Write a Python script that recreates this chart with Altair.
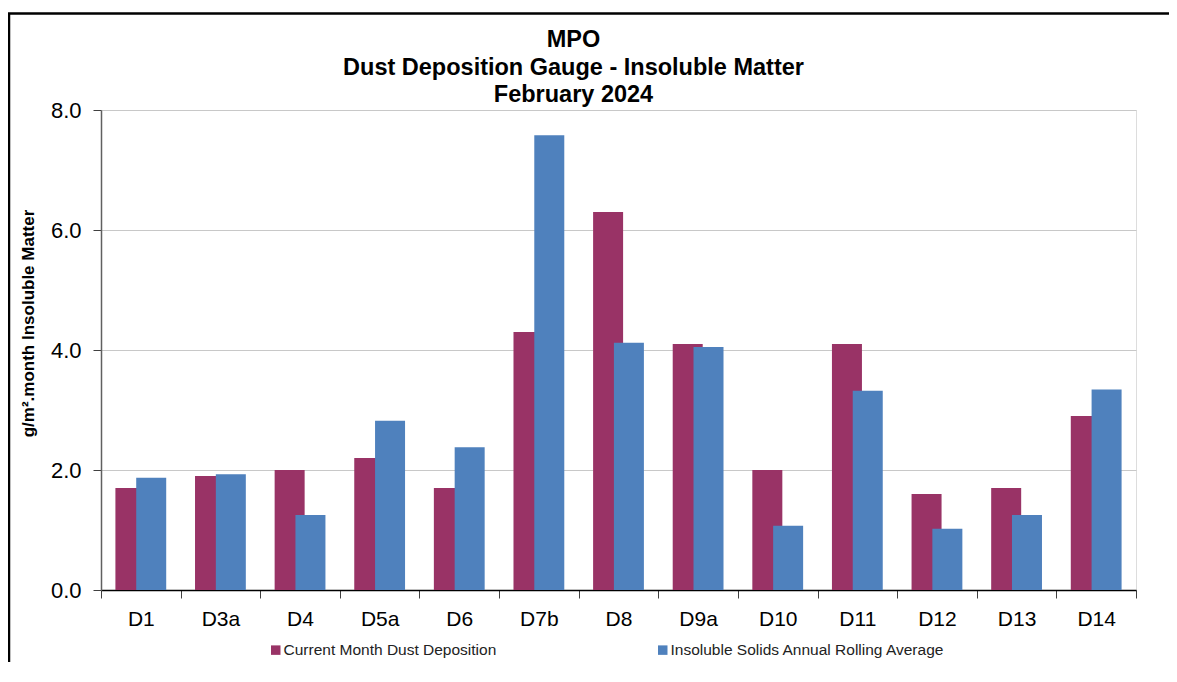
import altair as alt
import pandas as pd

sites = ["D1", "D3a", "D4", "D5a", "D6", "D7b", "D8", "D9a", "D10", "D11", "D12", "D13", "D14"]
current_month = [1.7, 1.9, 2.0, 2.2, 1.7, 4.3, 6.3, 4.1, 2.0, 4.1, 1.6, 1.7, 2.9]
rolling_avg = [1.87, 1.93, 1.25, 2.82, 2.38, 7.58, 4.12, 4.05, 1.07, 3.32, 1.02, 1.25, 3.34]
series_names = ["Current Month Dust Deposition", "Insoluble Solids Annual Rolling Average"]
series_colors = ["#993366", "#4F81BD"]
y_ticks = [0, 2, 4, 6, 8]
title_lines = ["MPO", "Dust Deposition Gauge - Insoluble Matter", "February 2024"]

FONT = "Liberation Sans"

df_cur = pd.DataFrame({"site": sites, "value": current_month, "series": series_names[0]})
df_avg = pd.DataFrame({"site": sites, "value": rolling_avg, "series": series_names[1]})

x_enc = alt.X(
    "site:N",
    sort=sites,
    scale=alt.Scale(domain=sites, paddingInner=0, paddingOuter=0),
    axis=alt.Axis(
        title=None,
        labelAngle=0,
        labelFontSize=21,
        labelFont=FONT,
        labelColor="#000000",
        labelPadding=10,
        tickBand="extent",
        tickSize=8,
        tickColor="#404040",
        domainColor="#000000",
        domainWidth=1.5,
        grid=False,
    ),
)
y_enc = alt.Y(
    "value:Q",
    scale=alt.Scale(domain=[0, 8], nice=False),
    axis=alt.Axis(
        title="g/m².month Insoluble Matter",
        titleFont=FONT,
        titleFontSize=17,
        titleFontWeight="bold",
        titleColor="#000000",
        titleAngle=270,
        titleAlign="center",
        titleBaseline="middle",
        titleX=-73,
        titleY=213,
        values=y_ticks,
        format=".1f",
        labelFontSize=22,
        labelFont=FONT,
        labelColor="#000000",
        labelPadding=12,
        tickSize=8,
        tickColor="#404040",
        domainColor="#606060",
        domainWidth=1.5,
        grid=True,
        gridColor="#C8C8C8",
        gridWidth=1.2,
    ),
)
color_enc = alt.Color(
    "series:N",
    scale=alt.Scale(domain=series_names, range=series_colors),
    legend=alt.Legend(
        title=None,
        orient="none",
        legendX=167,
        legendY=532,
        direction="horizontal",
        symbolType="square",
        symbolSize=90,
        symbolStrokeWidth=0,
        labelFont=FONT,
        labelFontSize=15.5,
        labelColor="#222222",
        labelOffset=0,
        columnPadding=158,
        labelLimit=400,
    ),
)

bars_cur = alt.Chart(df_cur).mark_bar(width=30, xOffset=-10.4).encode(x=x_enc, y=y_enc, color=color_enc)
bars_avg = alt.Chart(df_avg).mark_bar(width=30, xOffset=10.4).encode(x=x_enc, y=y_enc, color=color_enc)

frame = alt.Chart(pd.DataFrame({"k": [0]})).mark_rect(
    fill=None, stroke="#000000", strokeWidth=2.5, clip=False
).encode(
    x=alt.value(-92),
    x2=alt.value(1200),
    y=alt.value(-96.5),
    y2=alt.value(700),
)

chart = alt.layer(frame, bars_cur, bars_avg).properties(
    width=1035,
    height=480,
    title=alt.TitleParams(
        text=title_lines,
        font=FONT,
        fontSize=23.5,
        fontWeight="bold",
        color="#000000",
        anchor="middle",
        frame="group",
        baseline="bottom",
        dx=-45,
        offset=-118.5,
        lineHeight=27.5,
    ),
    autosize=alt.AutoSizeParams(type="none"),
    padding={"left": 93, "top": 102, "right": 33, "bottom": 72},
).configure_view(stroke=None).configure(background="#FFFFFF")

chart.save("out.html", embed_options={"renderer": "svg", "actions": False})
